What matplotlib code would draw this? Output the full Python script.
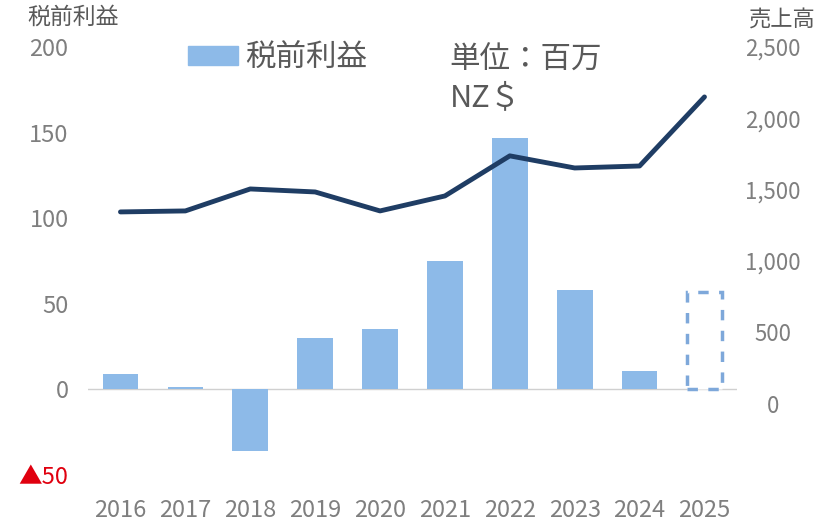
import matplotlib
matplotlib.use('Agg')
import matplotlib.pyplot as plt
from matplotlib.patches import Patch

plt.rcParams['font.family'] = ['Noto Sans CJK JP', 'DejaVu Sans']

years = ['2016', '2017', '2018', '2019', '2020', '2021', '2022', '2023', '2024', '2025']
profit = [9, 1.5, -36, 30, 35, 75, 147, 58, 11, 57]   # 税前利益 (left axis)
sales = [1344, 1351, 1505, 1484, 1351, 1456, 1737, 1652, 1666, 2150]  # 売上高 (right axis)
left_ticks = [-50, 0, 50, 100, 150, 200]
left_labels = ['▲50', '0', '50', '100', '150', '200']
right_ticks = [0, 500, 1000, 1500, 2000, 2500]
right_labels = ['0', '500', '1,000', '1,500', '2,000', '2,500']

bar_col = '#8DBAE8'
line_col = '#1F3D64'
txt = '#595959'
tick_col = '#7F7F7F'

fig = plt.figure(figsize=(8.28, 5.25), dpi=100)
ax = fig.add_axes([0.1063, 0.0952, 0.7837, 0.8153])
x = list(range(len(years)))

# actual years filled, forecast year as dashed outline
ax.bar(x[:-1], profit[:-1], width=0.55, color=bar_col, zorder=2)
ax.bar(x[-1], profit[-1], width=0.55, facecolor='white', edgecolor='#7EA8DA',
       lw=2.5, linestyle=(0, (3, 3)), zorder=2)
ax.axhline(0, color='#D0D0D0', lw=1, zorder=1)

ax.set_xlim(-0.5, 9.5)
ax.set_ylim(-50, 200)
ax.set_yticks(left_ticks)
ax.set_yticklabels(left_labels)
ax.set_xticks(x)
ax.set_xticklabels(years)
ax.tick_params(axis='both', length=0, labelsize=17, colors=tick_col)
ax.tick_params(axis='x', pad=17)
ax.tick_params(axis='y', pad=14)
ax.get_yticklabels()[0].set_color('#E0000F')
for s in ax.spines.values():
    s.set_visible(False)

ax2 = ax.twinx()
ax2.plot(x, sales, color=line_col, lw=3.5, solid_capstyle='round', zorder=3)
ax2.set_ylim(-500, 2500)
ax2.set_yticks(right_ticks)
ax2.set_yticklabels(right_labels, ha='center')
ax2.tick_params(axis='y', length=0, labelsize=16, colors=tick_col, pad=26)
for s in ax2.spines.values():
    s.set_visible(False)

fig.text(0.033, 0.967, '税前利益', fontsize=16.5, color=txt, va='center')
fig.text(0.905, 0.962, '売上高', fontsize=16, color=txt, va='center')

ax.legend(handles=[Patch(color=bar_col, label='税前利益')], loc='center left',
          bbox_to_anchor=(188 / 828, 1 - 58 / 525), bbox_transform=fig.transFigure,
          frameon=False, fontsize=22, labelcolor=txt, borderpad=0, borderaxespad=0,
          handlelength=1.63, handleheight=0.59, handletextpad=0.23)
fig.text(0.543, 0.886, '単位：百万', fontsize=22, color=txt, va='center')
fig.text(0.543, 0.815, 'NZ＄', fontsize=22, color=txt, va='center')

fig.savefig('out.png', dpi=100)
